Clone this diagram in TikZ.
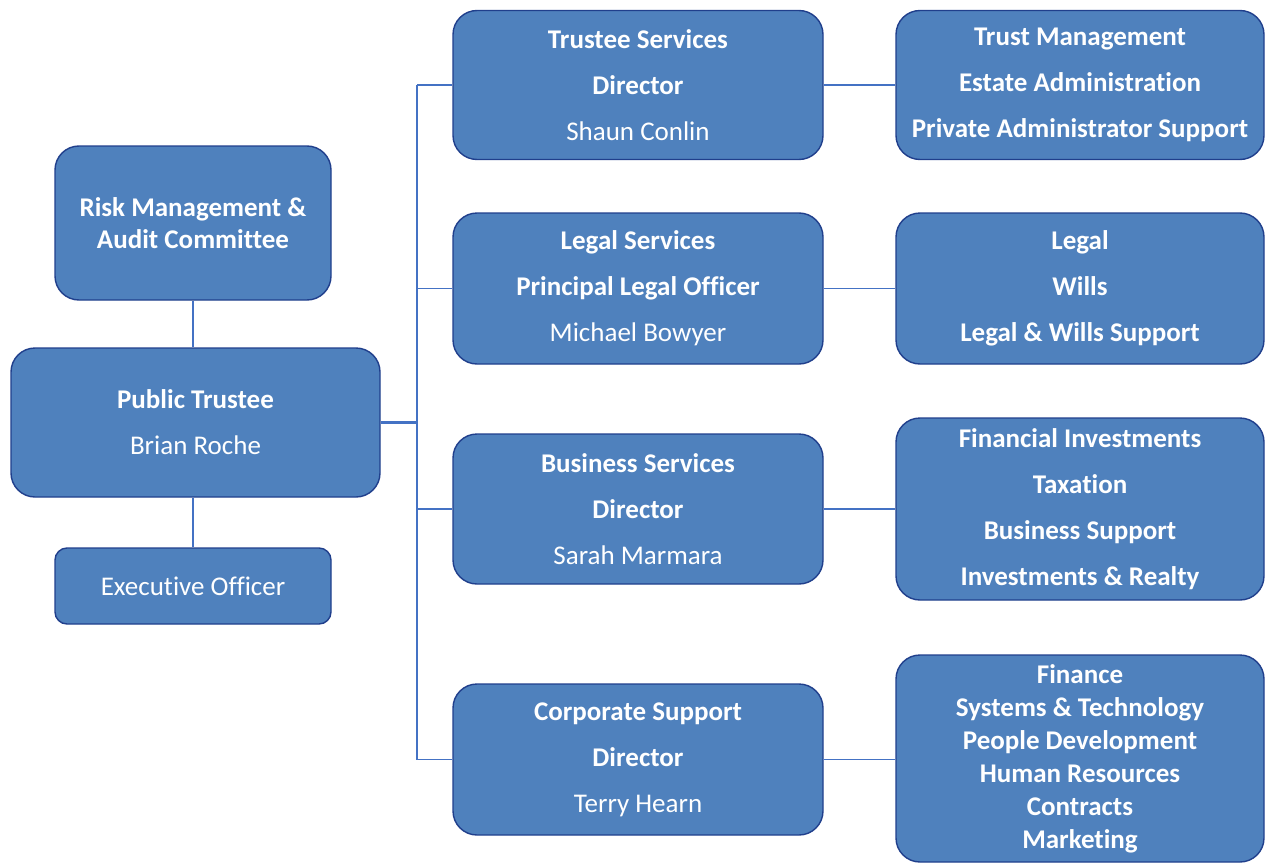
\documentclass[tikz,border=0pt]{standalone}
\usepackage{fontspec}
\setmainfont{Carlito}[Ligatures=NoCommon]
\definecolor{boxblue}{HTML}{4F81BD}
\definecolor{boxedge}{HTML}{203F8C}
\definecolor{linkblue}{HTML}{4472C4}
\begin{document}
\begin{tikzpicture}[x=1pt,y=-1pt,
    unit/.style={draw=boxedge, fill=boxblue, line width=1.4pt, rounded corners=24pt, text=white,
      inner sep=0pt, align=center, minimum width=370pt, minimum height=150pt,
      font=\fontsize{27}{46}\selectfont},
    tight/.style={font=\fontsize{27}{32}\selectfont},
    link/.style={draw=linkblue, line width=1.6pt}]
    \useasboundingbox (0,0) rectangle (1265,864);
    \node[unit, tight, minimum width=276pt, minimum height=154pt] (risk) at (193,223) {\bfseries Risk Management \&\\\bfseries Audit Committee};
    \node[unit, minimum width=369pt, minimum height=149pt] (pt) at (195.5,422.5) {\bfseries Public Trustee\\Brian Roche};
    \node[unit, minimum width=276pt, minimum height=76pt, rounded corners=12pt] (exec) at (193,586) {Executive Officer};

    \node[unit, minimum height=149pt] (ts) at (638,85) {\bfseries Trustee Services\\\bfseries Director\\Shaun Conlin};
    \node[unit, minimum height=151pt] (ls) at (638,288.5) {\bfseries Legal Services\\\bfseries Principal Legal Officer\\Michael Bowyer};
    \node[unit, minimum height=150pt] (bs) at (638,509) {\bfseries Business Services\\\bfseries Director\\Sarah Marmara};
    \node[unit, minimum height=151pt] (cs) at (638,759.5) {\bfseries Corporate Support\\\bfseries Director\\Terry Hearn};

    \node[unit, minimum width=368pt, minimum height=149pt, font=\bfseries\fontsize{27}{46}\selectfont] (tm) at (1080,85) {Trust Management\\Estate Administration\\Private Administrator Support};
    \node[unit, minimum width=368pt, minimum height=151pt, font=\bfseries\fontsize{27}{46}\selectfont] (lg) at (1080,288.5) {Legal\\Wills\\Legal \& Wills Support};
    \node[unit, minimum width=368pt, minimum height=182pt, font=\bfseries\fontsize{27}{46}\selectfont] (fi) at (1080,509) {Financial Investments\\Taxation\\Business Support\\Investments \& Realty};
    \node[unit, minimum width=368pt, minimum height=207pt, font=\bfseries\fontsize{27}{33}\selectfont] (fn) at (1080,758.5) {Finance\\Systems \& Technology\\People Development\\Human Resources\\Contracts\\Marketing};

    \coordinate (hub) at (417,422.5);
    \draw[link] (risk.south) -- (risk.south |- pt.north);
    \draw[link] (exec.north |- pt.south) -- (exec.north);
    \draw[link, line width=2.6pt] (pt.east) -- (hub);
    \draw[link] (hub |- ts.west) -- (hub |- cs.west);
    \foreach \n in {ts,ls,bs,cs}
        \draw[link] (hub |- \n.west) -- (\n.west);
    \foreach \a/\b in {ts/tm,ls/lg,bs/fi,cs/fn}
        \draw[link] (\a.east) -- (\a.east -| \b.west);
\end{tikzpicture}
\end{document}
